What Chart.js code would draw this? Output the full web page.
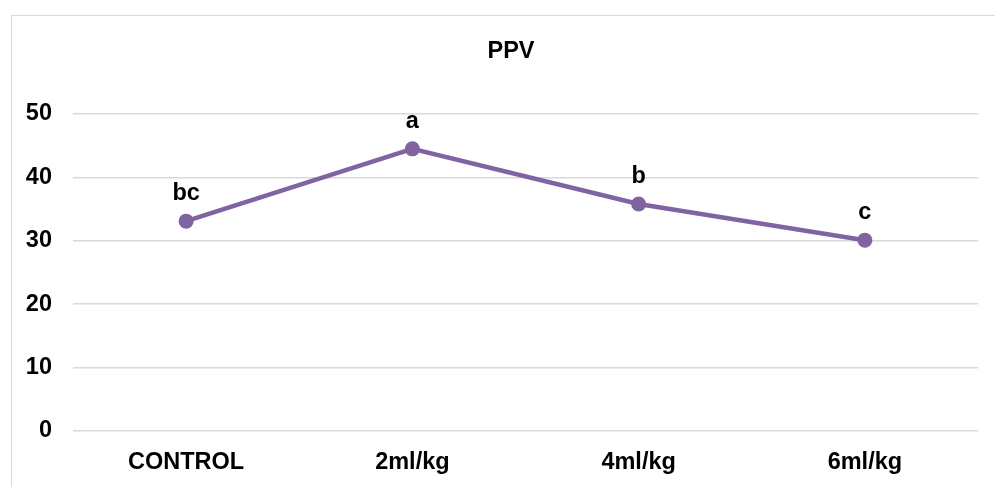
<!DOCTYPE html>
<html>
<head>
<meta charset="utf-8">
<script src="https://cdn.jsdelivr.net/npm/chart.js@4"></script>
<style>
    html, body { margin: 0; padding: 0; background: #fff; overflow: hidden; }
    #frame {
        position: absolute; left: 11px; top: 15px;
        width: 1000px; height: 480px;
        border-left: 1.5px solid #d9d9d9;
        border-top: 1.5px solid #d9d9d9;
    }
    #wrap { position: absolute; left: 1px; top: 1px; width: 996px; height: 472px; }
</style>
</head>
<body>
<div id="frame"><div id="wrap"><canvas id="ppvChart"></canvas></div></div>
<script>
// Dados do gráfico
const categories = ['CONTROL', '2ml/kg', '4ml/kg', '6ml/kg'];
const ppvValues = [33.1, 44.5, 35.8, 30.1];
const letterLabels = ['bc', 'a', 'b', 'c'];
const yTicks = [0, 10, 20, 30, 40, 50];
const chartTitle = 'PPV';

const FONT = '"Liberation Sans", Arial, sans-serif';

// Plugin para o título e as letras acima dos pontos
const letterPlugin = {
    id: 'letterPlugin',
    afterDatasetsDraw(chart) {
        const ctx = chart.ctx;
        const meta = chart.getDatasetMeta(0);
        ctx.save();
        ctx.font = 'bold 23.5px ' + FONT;
        ctx.fillStyle = '#000';
        ctx.textAlign = 'center';
        ctx.textBaseline = 'alphabetic';
        // título centrado no quadro inteiro
        ctx.fillText(chartTitle, chart.width / 2, 41);
        meta.data.forEach((pt, i) => {
            ctx.fillText(letterLabels[i], pt.x, pt.y - 21);
        });
        ctx.restore();
    }
};

const ctx = document.getElementById('ppvChart').getContext('2d');
new Chart(ctx, {
    type: 'line',
    data: {
        labels: categories,
        datasets: [{
            label: 'PPV',
            data: ppvValues,
            borderColor: '#8064A2',
            backgroundColor: '#8064A2',
            borderWidth: 4.5,
            pointRadius: 7.5,
            pointHoverRadius: 7.5,
            pointBorderWidth: 0,
            tension: 0
        }]
    },
    options: {
        responsive: true,
        maintainAspectRatio: false,
        animation: false,
        layout: { padding: { left: 0, right: 31, top: 97, bottom: 0 } },
        plugins: {
            legend: { display: false },
            tooltip: { enabled: false },
            title: { display: false }
        },
        scales: {
            x: {
                offset: true,
                grid: { display: false, drawTicks: false },
                border: { display: false },
                ticks: {
                    color: '#000',
                    padding: 17,
                    font: { family: FONT, size: 23.5, weight: 'bold' }
                },
                afterFit(scale) { scale.height = 58; }
            },
            y: {
                min: 0,
                max: 50,
                afterBuildTicks(scale) {
                    scale.ticks = yTicks.map(v => ({ value: v }));
                },
                grid: { color: '#d9d9d9', lineWidth: 1.5, drawTicks: false },
                border: { display: false },
                ticks: {
                    color: '#000',
                    padding: 21,
                    font: { family: FONT, size: 23.5, weight: 'bold' }
                },
                afterFit(scale) { scale.width = 60; }
            }
        }
    },
    plugins: [letterPlugin]
});
</script>
</body>
</html>
